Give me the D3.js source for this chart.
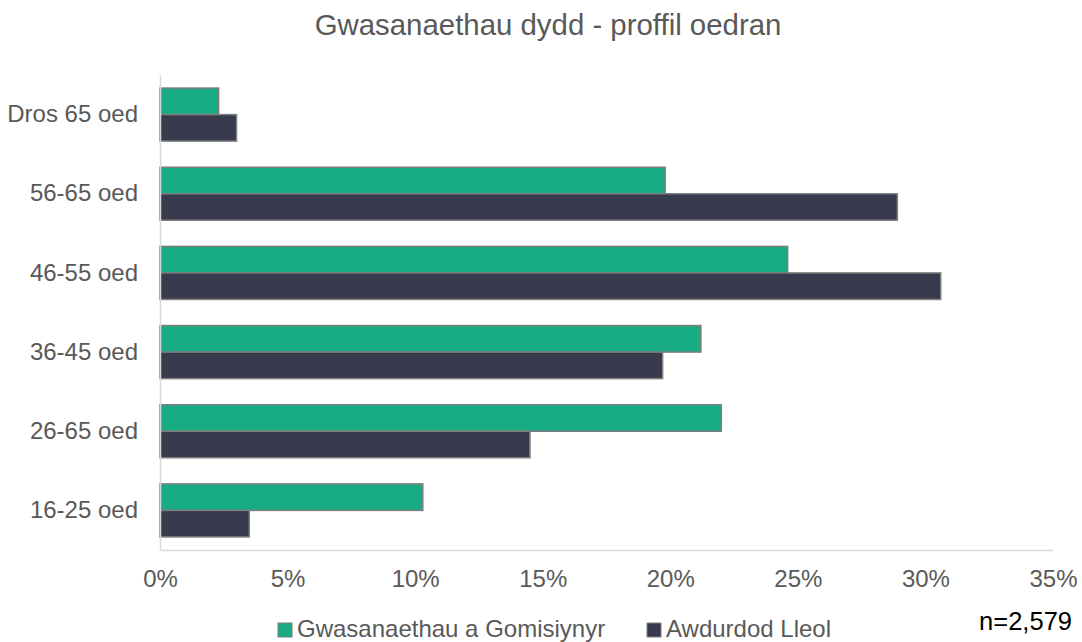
<!DOCTYPE html>
<html>
<head>
<meta charset="utf-8">
<script src="https://cdn.jsdelivr.net/npm/d3@7"></script>
<style>
  body { margin: 0; background: #fff; }
  text { font-family: "Liberation Sans", Arial, sans-serif; }
</style>
</head>
<body>
<script>
// age bands, top to bottom as shown
const categories = ["Dros 65 oed", "56-65 oed", "46-55 oed", "36-45 oed", "26-65 oed", "16-25 oed"];
const seriesNames = ["Gwasanaethau a Gomisiynyr", "Awdurdod Lleol"];
const commissioned = [2.3, 19.8, 24.6, 21.2, 22.0, 10.3];
const localAuth = [3.0, 28.9, 30.6, 19.7, 14.5, 3.5];
const xTicks = [0, 5, 10, 15, 20, 25, 30, 35];
const colors = ["#17ac83", "#383a4e"];

const svgWidth = 1082, svgHeight = 642;
const margin = { top: 75, right: 29, bottom: 92, left: 160 };
const width = svgWidth - margin.left - margin.right;
const height = svgHeight - margin.top - margin.bottom;

const root = d3.select("body").append("svg")
    .attr("width", svgWidth)
    .attr("height", svgHeight);

root.append("text")
    .attr("x", 548)
    .attr("y", 35)
    .attr("text-anchor", "middle")
    .attr("font-size", 29.4)
    .attr("fill", "#595959")
    .text("Gwasanaethau dydd - proffil oedran");

const svg = root.append("g")
    .attr("transform", `translate(${margin.left}, ${margin.top})`);

const x = d3.scaleLinear().domain([0, 35]).range([0, width]);
const y = d3.scaleBand().domain(categories).range([0, height]).paddingInner(0.33).paddingOuter(0.165);
const ySub = d3.scaleBand().domain([0, 1]).range([0, y.bandwidth()]);

// bars
const values = [commissioned, localAuth];
values.forEach((vals, s) => {
    svg.selectAll(null)
        .data(categories)
        .enter().append("rect")
        .attr("x", 0)
        .attr("y", d => y(d) + ySub(s))
        .attr("width", (d, i) => x(vals[i]))
        .attr("height", ySub.bandwidth())
        .attr("fill", colors[s])
        .attr("stroke", "#7f7f7f")
        .attr("stroke-width", 1.5);
});

// axes
const xAxis = svg.append("g")
    .attr("transform", `translate(0, ${height})`)
    .call(d3.axisBottom(x).tickValues(xTicks).tickSize(0).tickPadding(20).tickFormat(d => d + "%"));
xAxis.select(".domain").attr("stroke", "#d9d9d9").attr("stroke-width", 1.5);
xAxis.selectAll("text").attr("font-size", 24).attr("fill", "#595959");

const yAxis = svg.append("g")
    .call(d3.axisLeft(y).tickSize(0).tickPadding(22));
yAxis.select(".domain").attr("stroke", "#d9d9d9").attr("stroke-width", 1.5);
yAxis.selectAll("text").attr("font-size", 24).attr("fill", "#595959");

// legend
const legendX = [278, 647];
seriesNames.forEach((name, s) => {
    const g = root.append("g").attr("transform", `translate(${legendX[s]}, 637)`);
    g.append("rect")
        .attr("x", 0).attr("y", -14)
        .attr("width", 14).attr("height", 14)
        .attr("fill", colors[s])
        .attr("stroke", "#7f7f7f")
        .attr("stroke-width", 1);
    g.append("text")
        .attr("x", 19).attr("y", 0)
        .attr("font-size", 24)
        .attr("fill", "#595959")
        .text(name);
});

root.append("text")
    .attr("x", 1072)
    .attr("y", 630)
    .attr("text-anchor", "end")
    .attr("font-size", 25.5)
    .attr("fill", "#000")
    .text("n=2,579");
</script>
</body>
</html>
